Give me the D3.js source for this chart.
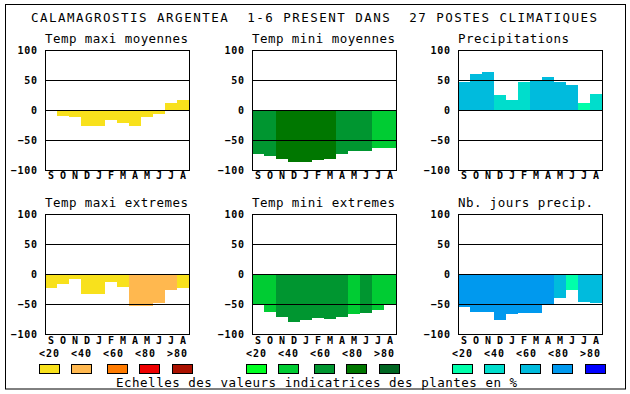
<!DOCTYPE html>
<html>
<head>
<meta charset="utf-8">
<script src="https://cdn.jsdelivr.net/npm/d3@7"></script>
<style>
	body { margin: 0; background: #fff; }
	text { font-family: "DejaVu Sans Mono", "Liberation Mono", monospace; fill: #000; }
	.bold { font-weight: bold; }
</style>
</head>
<body>
<svg id="chart" width="630" height="394"></svg>
<script>
"use strict";

var title = "CALAMAGROSTIS ARGENTEA  1-6 PRESENT DANS  27 POSTES CLIMATIQUES";
var caption = "Echelles des valeurs indicatrices des plantes en %";
var months = ["S", "O", "N", "D", "J", "F", "M", "A", "M", "J", "J", "A"];
var classLabels = ["<20", "<40", "<60", "<80", ">80"];
var yTicks = [100, 50, 0, -50, -100];

// One colour scale per column of panels
var warmColours = ["#f8e11c", "#ffb84f", "#ff7b00", "#ee0000", "#aa1100"];
var coolColours = ["#00ff22", "#00cc33", "#009630", "#007700", "#006622"];
var wetColours = ["#00ffaa", "#00ddcc", "#00bbdd", "#0099ee", "#0000ff"];

// Values (%) and colour class (index into classLabels) for each month
var tmaxMoyValues = [-2, -10, -12, -26, -26, -16, -22, -26, -12, -6, 12, 16];
var tmaxMoyClass = [0, 0, 0, 0, 0, 0, 0, 0, 0, 0, 0, 0];
var tminMoyValues = [-73, -76, -81, -86, -86, -83, -81, -73, -68, -68, -64, -64];
var tminMoyClass = [2, 2, 3, 3, 3, 3, 3, 2, 2, 2, 1, 1];
var precValues = [46, 60, 63, 25, 17, 46, 49, 55, 46, 42, 12, 27];
var precClass = [2, 2, 2, 1, 1, 1, 2, 2, 2, 2, 0, 1];
var tmaxExtValues = [-24, -16, -8, -34, -33, -13, -22, -53, -54, -48, -27, -24];
var tmaxExtClass = [0, 0, 0, 0, 0, 0, 0, 1, 1, 1, 1, 0];
var tminExtValues = [-52, -64, -72, -80, -77, -74, -75, -72, -67, -65, -60, -52];
var tminExtClass = [1, 1, 2, 2, 2, 2, 2, 2, 1, 2, 1, 1];
var joursValues = [-55, -64, -64, -77, -67, -65, -65, -52, -40, -27, -47, -49];
var joursClass = [3, 3, 3, 3, 3, 3, 3, 3, 2, 0, 2, 2];

var panels = [
	{name: "Temp maxi moyennes", values: tmaxMoyValues, classes: tmaxMoyClass, colours: warmColours, col: 0, row: 0},
	{name: "Temp mini moyennes", values: tminMoyValues, classes: tminMoyClass, colours: coolColours, col: 1, row: 0},
	{name: "Precipitations", values: precValues, classes: precClass, colours: wetColours, col: 2, row: 0},
	{name: "Temp maxi extremes", values: tmaxExtValues, classes: tmaxExtClass, colours: warmColours, col: 0, row: 1},
	{name: "Temp mini extremes", values: tminExtValues, classes: tminExtClass, colours: coolColours, col: 1, row: 1},
	{name: "Nb. jours precip.", values: joursValues, classes: joursClass, colours: wetColours, col: 2, row: 1}
];

var svg = d3.select("#chart");
var colLeft = [45, 252, 458];
var rowTop = [50, 214];
var width = 144, height = 120;

svg.append("rect")
	.attr("x", 5.5).attr("y", 4.5)
	.attr("width", 620).attr("height", 384.5)
	.attr("fill", "#fff").attr("stroke", "#000");

svg.append("text")
	.attr("x", 31).attr("y", 22)
	.attr("font-size", 12.5)
	.attr("textLength", 566).attr("lengthAdjust", "spacing")
	.style("white-space", "pre")
	.text(title);

// Spread monospace text so each character takes a fixed advance
function spread(sel, charWidth, trim) {
	sel.each(function () {
		var n = this.textContent.length;
		d3.select(this).attr("textLength", n * charWidth - trim).attr("lengthAdjust", "spacing");
	});
}

var x = d3.scaleBand()
	.domain(d3.range(months.length))
	.range([0, width]);
var y = d3.scaleLinear()
	.domain([-100, 100])
	.range([height, 0]);

panels.forEach(function (p) {
	var g = svg.append("g")
		.attr("transform", "translate(" + colLeft[p.col] + "," + rowTop[p.row] + ")");

	g.append("text")
		.attr("x", 0).attr("y", -7)
		.attr("font-size", 12.5)
		.text(p.name)
		.call(spread, 8, 1);

	g.append("rect")
		.attr("width", width).attr("height", height)
		.attr("fill", "#fff");

	// Bars go from 0 to the value, coloured by class
	g.selectAll("rect.bar")
		.data(p.values)
		.enter()
		.append("rect")
		.attr("class", "bar")
		.attr("x", function (d, i) { return x(i); })
		.attr("width", x.bandwidth())
		.attr("y", function (d) { return y(Math.max(0, d)); })
		.attr("height", function (d) { return Math.abs(y(d) - y(0)); })
		.attr("fill", function (d, i) { return p.colours[p.classes[i]]; })
		.attr("shape-rendering", "crispEdges");

	// Grid lines and labels via the axis
	var yAxis = g.append("g")
		.call(d3.axisLeft(y).tickValues(yTicks).tickSize(-width).tickPadding(8));
	yAxis.select(".domain").remove();
	yAxis.selectAll("line").attr("stroke", "#000").attr("shape-rendering", "crispEdges");
	yAxis.selectAll("text")
		.attr("class", "bold")
		.attr("font-size", 10)
		.style("font-family", "'DejaVu Sans Mono', monospace")
		.call(spread, 6.8, 0.8);

	g.append("rect")
		.attr("width", width).attr("height", height)
		.attr("fill", "none").attr("stroke", "#000")
		.attr("shape-rendering", "crispEdges");

	var xAxis = g.append("g")
		.attr("transform", "translate(0," + height + ")")
		.call(d3.axisBottom(x).tickSize(0).tickPadding(p.row ? 3 : 1.5).tickFormat(function (i) { return months[i]; }));
	xAxis.select(".domain").remove();
	xAxis.selectAll("text")
		.attr("class", "bold")
		.attr("font-size", 10)
		.style("font-family", "'DejaVu Sans Mono', monospace");

	if (p.row === 1) {
		var labelOffsets = [-6, 26, 58, 90, 122];
		var boxOffsets = [-6, 26, 62, 94, 127];
		g.selectAll("text.cls")
			.data(classLabels)
			.enter()
			.append("text")
			.attr("class", "cls bold")
			.attr("x", function (d, i) { return labelOffsets[i]; })
			.attr("y", 143)
			.attr("font-size", 10)
			.text(function (d) { return d; })
			.call(spread, 6.8, 0.4);
		g.selectAll("rect.key")
			.data(p.colours)
			.enter()
			.append("rect")
			.attr("class", "key")
			.attr("x", function (d, i) { return boxOffsets[i] + 0.5; })
			.attr("y", 150.5)
			.attr("width", 20).attr("height", 9)
			.attr("fill", function (d) { return d; })
			.attr("stroke", "#000");
	}
});

svg.append("text")
	.attr("x", 116).attr("y", 387)
	.attr("font-size", 12.5)
	.attr("textLength", 401).attr("lengthAdjust", "spacing")
	.text(caption);
</script>
</body>
</html>
